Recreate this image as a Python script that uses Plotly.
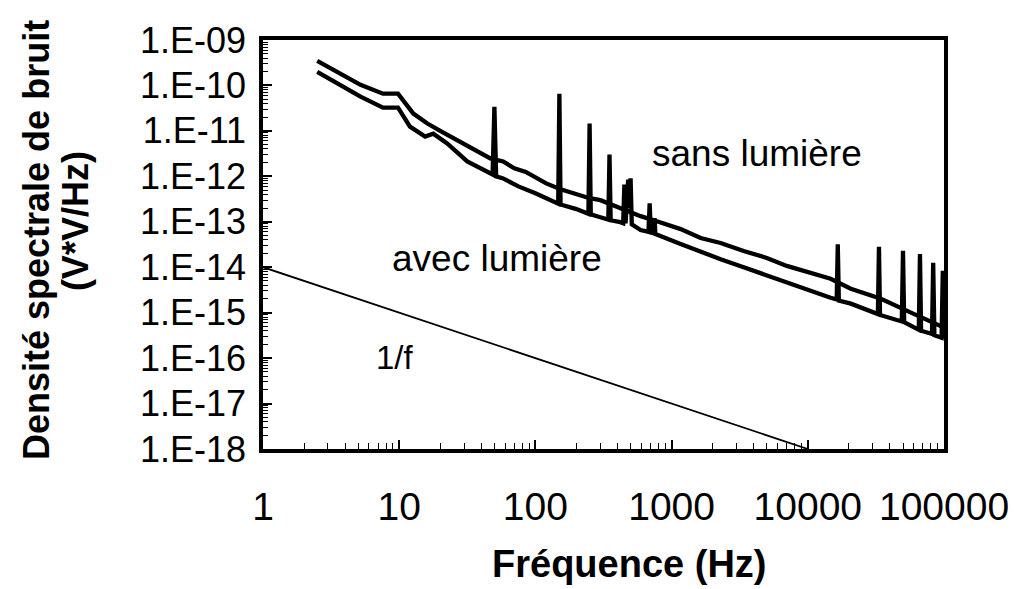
import plotly.graph_objects as go

# ---- data ----
freq_sans = [2.5, 5.2, 7.6, 9.8, 12.7, 16.1, 20, 28, 40.8, 46.7, 58, 70, 85, 100, 120, 153, 200, 250, 300,
             420, 592, 800, 1165, 1634, 2290, 3380, 5000, 7010, 10500, 14700, 20700, 34400, 57200, 100000]
psd_sans = [3.47e-10, 1.03e-10, 6.6e-11, 6.6e-11, 2.4e-11, 1.45e-11, 1.0e-11, 5.85e-12, 3.03e-12, 2.48e-12,
            2.13e-12, 1.5e-12, 1.25e-12, 9.5e-13, 7.0e-13, 5.2e-13, 4.0e-13, 3.3e-13, 2.99e-13,
            2.0e-13, 1.33e-13, 1.0e-13, 6.9e-14, 4.4e-14, 3.41e-14, 2.28e-14, 1.6e-14, 1.07e-14, 7.5e-15,
            5.56e-15, 3.36e-15, 2.03e-15, 1.0e-15, 4.7e-16]

freq_avec = [2.5, 5.2, 7.6, 9.8, 12.0, 15.5, 17.8, 22.5, 31.6, 40.8, 46.7, 48.5, 50, 51.5, 58, 75, 100,
             147, 150, 153, 200, 245, 250, 255, 300, 343, 350, 357, 420, 441, 450, 459, 470, 480, 490,
             500, 510, 592, 676, 690, 704, 740, 750, 760, 1165, 1634, 2290, 3380, 7010, 10500, 14700,
             16300, 16600, 16900, 20700, 32700, 33300, 33900, 49000, 50000, 51000, 65300, 66600, 67900,
             81600, 83300, 85000, 96000, 98000, 100000]
psd_avec = [1.99e-10, 5.65e-11, 3.24e-11, 3.24e-11, 1.24e-11, 7.5e-12, 8.7e-12, 5.3e-12, 2.13e-12, 1.42e-12,
            1.16e-12, 1.1e-12, 3.4e-11, 1.0e-12, 9.0e-13, 6.0e-13, 4.25e-13,
            2.5e-13, 6.6e-11, 2.4e-13, 1.9e-13, 1.5e-13, 1.45e-11, 1.45e-13, 1.26e-13, 1.12e-13, 3.0e-12,
            1.08e-13, 9.8e-14, 9.3e-14, 6.6e-13, 9.2e-14, 3.0e-13, 8.5e-13, 2.0e-13,
            9.0e-13, 8.8e-14, 6.6e-14, 6.0e-14, 2.56e-13, 5.8e-14, 5.6e-14, 1.2e-13, 5.4e-14, 3.24e-14,
            2.17e-14, 1.5e-14, 1.0e-14, 4.54e-15, 3.03e-15, 2.13e-15,
            1.95e-15, 3.2e-14, 1.85e-15, 1.58e-15, 9.3e-16, 2.8e-14, 8.9e-16, 6.4e-16, 2.3e-14, 6.2e-16,
            4.2e-16, 1.95e-14, 4.0e-16, 3.4e-16, 1.25e-14, 3.2e-16, 2.8e-16, 8.3e-15, 2.7e-16]

freq_1f = [1, 10000]
psd_1f = [1e-14, 1e-18]

x_tickvals = [1, 10, 100, 1000, 10000, 100000]
x_ticktext = ["1", "10", "100", "1000", "10000", "100000"]
y_tickvals = [1e-9, 1e-10, 1e-11, 1e-12, 1e-13, 1e-14, 1e-15, 1e-16, 1e-17, 1e-18]
y_ticktext = ["1.E-09", "1.E-10", "1.E-11", "1.E-12", "1.E-13", "1.E-14", "1.E-15", "1.E-16", "1.E-17", "1.E-18"]

FONT = "Liberation Sans, Arial, sans-serif"

fig = go.Figure()
fig.add_trace(go.Scatter(x=freq_1f, y=psd_1f, mode="lines",
                         line=dict(color="black", width=1.8), showlegend=False))
fig.add_trace(go.Scatter(x=freq_sans, y=psd_sans, mode="lines", name="sans lumière",
                         line=dict(color="black", width=4.3), showlegend=False))
fig.add_trace(go.Scatter(x=freq_avec, y=psd_avec, mode="lines", name="avec lumière",
                         line=dict(color="black", width=4.3), showlegend=False))

# page body has an 8px margin -> figure is drawn at (8, 8) in the window
OFF = 8
W, H = 1021 - OFF, 589 - OFF
L, R, T, B = 263 - OFF, 1021 - 944, 38 - OFF, 589 - 449

fig.update_layout(
    width=W, height=H,
    margin=dict(l=L, r=R, t=T, b=B),
    paper_bgcolor="white", plot_bgcolor="white",
    font=dict(family=FONT, color="black"),
    xaxis=dict(type="log", range=[0, 5], tickmode="array", tickvals=x_tickvals, ticktext=x_ticktext,
               ticks="inside", ticklen=9, tickwidth=1.6, tickcolor="black",
               minor=dict(ticks="inside", ticklen=6, tickwidth=1.3, tickcolor="black", dtick="D1"),
               showline=True, linewidth=3.5, linecolor="black", mirror=True, showgrid=False, zeroline=False,
               tickfont=dict(size=39, family=FONT), ticklabelstandoff=20, layer="above traces"),
    yaxis=dict(type="log", range=[-18, -9], dtick=1,
               tickvals=y_tickvals, ticktext=y_ticktext, tickmode="array",
               ticks="inside", ticklen=9, tickwidth=1.6, tickcolor="black",
               minor=dict(ticks="inside", ticklen=5, tickwidth=1.3, tickcolor="black", dtick="D1"),
               showline=True, linewidth=3.5, linecolor="black", mirror=True, showgrid=False, zeroline=False,
               tickfont=dict(size=36, family=FONT), ticklabelstandoff=6, layer="above traces"),
)

ann_specs = [
    ("sans lumière", 757, 152, 37, 0),
    ("avec lumière", 497, 258, 37, 0),
    ("1/f", 395, 357, 33, 0),
    ("<b>Fréquence (Hz)</b>", 629, 565, 38, 0),
    ("<b>Densité spectrale de bruit</b>", 36, 239, 36, -90),
    ("<b>(V*V/Hz)</b>", 75, 220, 36, -90),
]
pw, ph = W - L - R, H - T - B
for text, px, py, size, ang in ann_specs:
    fx = px - OFF
    fy = py - OFF
    fig.add_annotation(text=text, x=(fx - L) / pw, y=1 - (fy - T) / ph, xref="paper", yref="paper",
                       xanchor="center", yanchor="middle", showarrow=False, textangle=ang,
                       font=dict(size=size, family=FONT, color="black"))

fig.write_html("out.html")
